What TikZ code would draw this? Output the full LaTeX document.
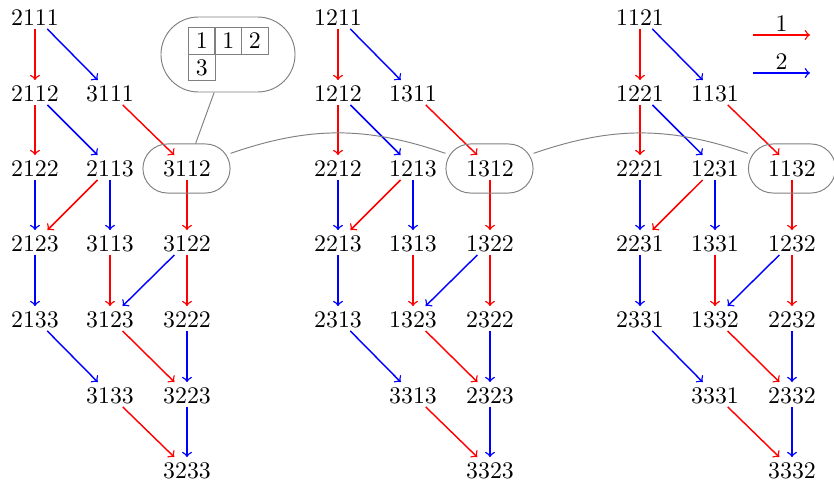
\documentclass[tikz,border=0pt]{standalone}
\begin{document}
\begin{tikzpicture}[x=0.42pt,y=-0.42pt,
  lbl/.style={inner sep=1.3pt,text height=7.44pt,text depth=0pt},
  r/.style={red,semithick,->},
  b/.style={blue,semithick,->},
  hbox/.style={draw=gray,rounded corners=10.3pt,minimum width=36.6pt,minimum height=20.6pt},
  bubble/.style={draw=gray,rounded corners=15.7pt,minimum width=56.3pt,minimum height=31.5pt},
  cell/.style={draw=gray,minimum size=11.2pt,inner sep=0pt,text height=6.44pt,text depth=0pt},
  link/.style={gray}]
\useasboundingbox (0,0) rectangle (834,483);

% ---------- first lattice ----------
\node[lbl] (n2111) at (35,16.5) {2111};
\node[lbl] (n2112) at (35,92.5) {2112};
\node[lbl] (n3111) at (110,92.5) {3111};
\node[lbl] (n2122) at (35,167.5) {2122};
\node[lbl] (n2113) at (110,167.5) {2113};
\node[lbl] (n3112) at (187,167.5) {3112};
\node[lbl] (n2123) at (35,242.5) {2123};
\node[lbl] (n3113) at (110,242.5) {3113};
\node[lbl] (n3122) at (187,242.5) {3122};
\node[lbl] (n2133) at (35,318.5) {2133};
\node[lbl] (n3123) at (110,318.5) {3123};
\node[lbl] (n3222) at (187,318.5) {3222};
\node[lbl] (n3133) at (110,394.5) {3133};
\node[lbl] (n3223) at (187,394.5) {3223};
\node[lbl] (n3233) at (187,469.5) {3233};

\draw[r] (n2111) -- (n2112);
\draw[b] (n2111) -- (n3111);
\draw[r] (n2112) -- (n2122);
\draw[b] (n2112) -- (n2113);
\draw[r] (n3111) -- (n3112);
\draw[b] (n2122) -- (n2123);
\draw[r] (n2113) -- (n2123);
\draw[b] (n2113) -- (n3113);
\draw[r] (n3112) -- (n3122);
\draw[b] (n2123) -- (n2133);
\draw[r] (n3113) -- (n3123);
\draw[b] (n3122) -- (n3123);
\draw[r] (n3122) -- (n3222);
\draw[b] (n2133) -- (n3133);
\draw[r] (n3123) -- (n3223);
\draw[b] (n3222) -- (n3223);
\draw[r] (n3133) -- (n3233);
\draw[b] (n3223) -- (n3233);

% ---------- second lattice ----------
\node[lbl] (n1211) at (338,16.5) {1211};
\node[lbl] (n1212) at (338,92.5) {1212};
\node[lbl] (n1311) at (413,92.5) {1311};
\node[lbl] (n2212) at (338,167.5) {2212};
\node[lbl] (n1213) at (413,167.5) {1213};
\node[lbl] (n1312) at (490,167.5) {1312};
\node[lbl] (n2213) at (338,242.5) {2213};
\node[lbl] (n1313) at (413,242.5) {1313};
\node[lbl] (n1322) at (490,242.5) {1322};
\node[lbl] (n2313) at (338,318.5) {2313};
\node[lbl] (n1323) at (413,318.5) {1323};
\node[lbl] (n2322) at (490,318.5) {2322};
\node[lbl] (n3313) at (413,394.5) {3313};
\node[lbl] (n2323) at (490,394.5) {2323};
\node[lbl] (n3323) at (490,469.5) {3323};

\draw[r] (n1211) -- (n1212);
\draw[b] (n1211) -- (n1311);
\draw[r] (n1212) -- (n2212);
\draw[b] (n1212) -- (n1213);
\draw[r] (n1311) -- (n1312);
\draw[b] (n2212) -- (n2213);
\draw[r] (n1213) -- (n2213);
\draw[b] (n1213) -- (n1313);
\draw[r] (n1312) -- (n1322);
\draw[b] (n2213) -- (n2313);
\draw[r] (n1313) -- (n1323);
\draw[b] (n1322) -- (n1323);
\draw[r] (n1322) -- (n2322);
\draw[b] (n2313) -- (n3313);
\draw[r] (n1323) -- (n2323);
\draw[b] (n2322) -- (n2323);
\draw[r] (n3313) -- (n3323);
\draw[b] (n2323) -- (n3323);

% ---------- third lattice ----------
\node[lbl] (n1121) at (640,16.5) {1121};
\node[lbl] (n1221) at (640,92.5) {1221};
\node[lbl] (n1131) at (715,92.5) {1131};
\node[lbl] (n2221) at (640,167.5) {2221};
\node[lbl] (n1231) at (715,167.5) {1231};
\node[lbl] (n1132) at (792,167.5) {1132};
\node[lbl] (n2231) at (640,242.5) {2231};
\node[lbl] (n1331) at (715,242.5) {1331};
\node[lbl] (n1232) at (792,242.5) {1232};
\node[lbl] (n2331) at (640,318.5) {2331};
\node[lbl] (n1332) at (715,318.5) {1332};
\node[lbl] (n2232) at (792,318.5) {2232};
\node[lbl] (n3331) at (715,394.5) {3331};
\node[lbl] (n2332) at (792,394.5) {2332};
\node[lbl] (n3332) at (792,469.5) {3332};

\draw[r] (n1121) -- (n1221);
\draw[b] (n1121) -- (n1131);
\draw[r] (n1221) -- (n2221);
\draw[b] (n1221) -- (n1231);
\draw[r] (n1131) -- (n1132);
\draw[b] (n2221) -- (n2231);
\draw[r] (n1231) -- (n2231);
\draw[b] (n1231) -- (n1331);
\draw[r] (n1132) -- (n1232);
\draw[b] (n2231) -- (n2331);
\draw[r] (n1331) -- (n1332);
\draw[b] (n1232) -- (n1332);
\draw[r] (n1232) -- (n2232);
\draw[b] (n2331) -- (n3331);
\draw[r] (n1332) -- (n2332);
\draw[b] (n2232) -- (n2332);
\draw[r] (n3331) -- (n3332);
\draw[b] (n2332) -- (n3332);

% ---------- highlighted elements and their links ----------
\node[hbox] (b3112) at (186.5,168.5) {};
\node[hbox] (b1312) at (489.5,168.5) {};
\node[hbox] (b1132) at (792,168.5) {};
\draw[link] (b3112) to[bend left=19] (b1312);
\draw[link] (b1312) to[bend left=19] (b1132);

% tableau bubble
\node[bubble] (tab) at (228,54.5) {};
\node[cell] (c11) at (201.7,41) {1};
\node[cell] (c12) at (228.3,41) {1};
\node[cell] (c13) at (254.9,41) {2};
\node[cell] (c21) at (201.7,67.6) {3};
\draw[link] (tab) -- (b3112);

% ---------- legend ----------
\coordinate (l1a) at (753,35);
\coordinate (l1b) at (810,35);
\coordinate (l2a) at (753,73);
\coordinate (l2b) at (810,73);
\draw[r] (l1a) -- node[lbl,above,text=black] (lab1) {1} (l1b);
\draw[b] (l2a) -- node[lbl,above,text=black] (lab2) {2} (l2b);
\end{tikzpicture}
\end{document}
